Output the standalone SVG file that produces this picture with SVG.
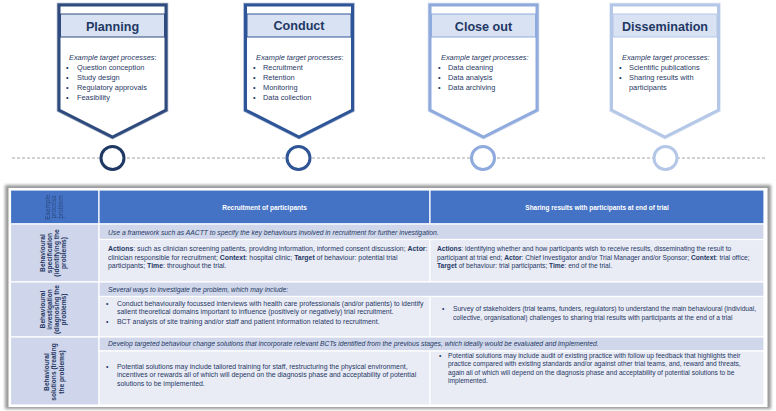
<svg xmlns="http://www.w3.org/2000/svg" width="776" height="411" viewBox="0 0 776 411">
<defs>
<filter id="soft" x="-10%" y="-10%" width="120%" height="120%"><feGaussianBlur stdDeviation="0.7"/></filter>
<filter id="frame" x="-5%" y="-5%" width="110%" height="110%"><feGaussianBlur stdDeviation="1.6"/></filter>
</defs>
<style>
text{font-family:"Liberation Sans",Arial,sans-serif;fill:#1F3864}
.title{font-size:12.6px;font-weight:bold;text-anchor:middle}
.ex{font-size:7.4px;font-style:italic}
.li{font-size:7.4px}
.shape{fill:#fff;stroke-width:3}
.glow{fill:none;stroke-width:4.5;opacity:.45}
.hdr{fill:#D9E2F3;stroke-width:1}
.dot{fill:#fff;stroke-width:3}
.p1{stroke:#2F4A7C}.p2{stroke:#2E5597}.p3{stroke:#8FAADC}.p4{stroke:#B4C7E7}
.th{font-size:6.5px;font-weight:bold;fill:#fff;text-anchor:middle}
.rl{font-size:6.6px;font-weight:bold;text-anchor:middle}
.rh{font-size:6.5px;text-anchor:middle;fill:#1F3864;opacity:.7}
.it{font-size:6.75px;font-style:italic}
.bd2{font-size:6.9px}
.bd3{font-size:6.65px}
.b{font-weight:bold}
.blue{fill:#4472C4}.side{fill:#CFD5EA}.band{fill:#D0D7EA}.cell{fill:#E9EBF5}
.grid rect{stroke:#fff;stroke-width:1.2}
</style>

<g id="connectors">
<line x1="12" y1="158" x2="765" y2="158" stroke="#A6A6A6" stroke-width="1" stroke-dasharray="3 2"/>
</g>

<g id="planning">
<path class="glow p1" filter="url(#soft)" d="M59,5H166V110L112.5,137L59,110Z"/>
<path class="shape p1" d="M59,5H166V110L112.5,137L59,110Z"/>
<rect class="hdr p1" x="60.5" y="14" width="104" height="23"/>
<text class="title" x="112.5" y="31">Planning</text>
<text class="ex" x="69" y="60">Example target processes<tspan font-style="normal">:</tspan></text>
<text class="li" x="66" y="70">•</text><text class="li" x="77" y="70">Question conception</text>
<text class="li" x="66" y="80">•</text><text class="li" x="77" y="80">Study design</text>
<text class="li" x="66" y="90">•</text><text class="li" x="77" y="90">Regulatory approvals</text>
<text class="li" x="66" y="100">•</text><text class="li" x="77" y="100">Feasibility</text>
</g>
<g id="planning-dot"><circle class="dot" cx="112.5" cy="158" r="11.5" stroke="#203864"/></g>

<g id="conduct">
<path class="glow p2" filter="url(#soft)" d="M245.5,5H352.5V110L299,137L245.5,110Z"/>
<path class="shape p2" d="M245.5,5H352.5V110L299,137L245.5,110Z"/>
<rect class="hdr p2" x="247" y="14" width="104" height="23"/>
<text class="title" x="299" y="30">Conduct</text>
<text class="ex" x="256" y="60">Example target processes<tspan font-style="normal">:</tspan></text>
<text class="li" x="253" y="70">•</text><text class="li" x="263" y="70">Recruitment</text>
<text class="li" x="253" y="80">•</text><text class="li" x="263" y="80">Retention</text>
<text class="li" x="253" y="90">•</text><text class="li" x="263" y="90">Monitoring</text>
<text class="li" x="253" y="100">•</text><text class="li" x="263" y="100">Data collection</text>
</g>
<g id="conduct-dot"><circle class="dot" cx="298.5" cy="158" r="11.5" stroke="#2F5597"/></g>

<g id="closeout">
<path class="glow p3" filter="url(#soft)" d="M430,5H537V110L483.5,137L430,110Z"/>
<path class="shape p3" d="M430,5H537V110L483.5,137L430,110Z"/>
<rect class="hdr p3" x="431.5" y="14" width="104" height="23"/>
<text class="title" x="483.5" y="31">Close out</text>
<text class="ex" x="441" y="60">Example target processes:</text>
<text class="li" x="438" y="70">•</text><text class="li" x="448" y="70">Data cleaning</text>
<text class="li" x="438" y="80">•</text><text class="li" x="448" y="80">Data analysis</text>
<text class="li" x="438" y="90">•</text><text class="li" x="448" y="90">Data archiving</text>
</g>
<g id="closeout-dot"><circle class="dot" cx="483" cy="158" r="11.5" stroke="#8FAADC"/></g>

<g id="dissemination">
<path class="glow p4" filter="url(#soft)" d="M611.5,5H718.5V110L665,137L611.5,110Z"/>
<path class="shape p4" d="M611.5,5H718.5V110L665,137L611.5,110Z"/>
<rect class="hdr p4" x="613" y="14" width="104" height="23"/>
<text class="title" x="665" y="31">Dissemination</text>
<text class="ex" x="622" y="60">Example target processes:</text>
<text class="li" x="619" y="70">•</text><text class="li" x="629" y="70">Scientific publications</text>
<text class="li" x="619" y="80">•</text><text class="li" x="629" y="80">Sharing results with</text>
<text class="li" x="629" y="90">participants</text>
</g>
<g id="dissemination-dot"><circle class="dot" cx="665.5" cy="158" r="11.5" stroke="#B4C7E7"/></g>

<g id="table">
<rect x="5" y="185" width="766" height="224" fill="#9A9A9A" filter="url(#frame)"/>
<rect x="8.5" y="188" width="759" height="219" fill="#fff"/>
<g class="grid">
<rect class="blue" x="10.5" y="190" width="88.5" height="34"/>
<rect class="blue" x="99" y="190" width="331" height="34"/>
<rect class="blue" x="430" y="190" width="334" height="34"/>
<rect class="side" x="10.5" y="224" width="88.5" height="58"/>
<rect class="band" x="99" y="224" width="665" height="15.5"/>
<rect class="cell" x="99" y="239.5" width="331" height="42.5"/>
<rect class="cell" x="430" y="239.5" width="334" height="42.5"/>
<rect class="side" x="10.5" y="282" width="88.5" height="55"/>
<rect class="band" x="99" y="282" width="665" height="14.5"/>
<rect class="cell" x="99" y="296.5" width="331" height="40.5"/>
<rect class="cell" x="430" y="296.5" width="334" height="40.5"/>
<rect class="side" x="10.5" y="337" width="88.5" height="68"/>
<rect class="band" x="99" y="337" width="665" height="14"/>
<rect class="cell" x="99" y="351" width="331" height="54"/>
<rect class="cell" x="430" y="351" width="334" height="54"/>
</g>
</g>

<g id="header-row">
<text class="rh" transform="translate(49.5,207) rotate(-90)">Example</text>
<text class="rh" transform="translate(56,207) rotate(-90)">process</text>
<text class="rh" transform="translate(62.5,207) rotate(-90)">problem</text>
<text class="th" x="264.5" y="209.5">Recruitment of participants</text>
<text class="th" x="597" y="209.5">Sharing results with participants at end of trial</text>
</g>

<g id="row-specification">
<text class="rl" transform="translate(44.5,253) rotate(-90)">Behavioural</text>
<text class="rl" transform="translate(51.8,253) rotate(-90)">specification</text>
<text class="rl" transform="translate(59.1,253) rotate(-90)">(identifying the</text>
<text class="rl" transform="translate(66.4,253) rotate(-90)">problems)</text>
<text class="it" x="108" y="234.5">Use a framework such as AACTT to specify the key behaviours involved in recruitment for further investigation.</text>
<text class="bd2" x="108" y="251"><tspan class="b">Actions</tspan>: such as clinician screening patients, providing information, informed consent discussion; <tspan class="b">Actor</tspan>:</text>
<text class="bd2" x="108" y="259.5">clinician responsible for recruitment; <tspan class="b">Context</tspan>: hospital clinic; <tspan class="b">Target</tspan> of behaviour: potential trial</text>
<text class="bd2" x="108" y="268">participants; <tspan class="b">Time</tspan>: throughout the trial.</text>
<text class="bd3" x="437" y="251"><tspan class="b">Actions</tspan>: identifying whether and how participants wish to receive results, disseminating the result to</text>
<text class="bd3" x="437" y="259.5">participant at trial end; <tspan class="b">Actor</tspan>: Chief Investigator and/or Trial Manager and/or Sponsor; <tspan class="b">Context</tspan>: trial office;</text>
<text class="bd3" x="437" y="268"><tspan class="b">Target</tspan> of behaviour: trial participants; <tspan class="b">Time</tspan>: end of the trial.</text>
</g>

<g id="row-investigation">
<text class="rl" transform="translate(44.5,309.5) rotate(-90)">Behavioural</text>
<text class="rl" transform="translate(51.8,309.5) rotate(-90)">investigation</text>
<text class="rl" transform="translate(59.1,309.5) rotate(-90)">(diagnosing the</text>
<text class="rl" transform="translate(66.4,309.5) rotate(-90)">problems)</text>
<text class="it" x="108" y="291.5">Several ways to investigate the problem, which may include:</text>
<text class="bd2" x="106" y="305.5">•</text>
<text class="bd2" x="117" y="305.5">Conduct behaviourally focussed interviews with health care professionals (and/or patients) to identify</text>
<text class="bd2" x="117" y="314">salient theoretical domains important to influence (positively or negatively) trial recruitment.</text>
<text class="bd2" x="106" y="323.5">•</text>
<text class="bd2" x="117" y="323.5">BCT analysis of site training and/or staff and patient information related to recruitment.</text>
<text class="bd3" x="442" y="311">•</text>
<text class="bd3" x="453" y="311">Survey of stakeholders (trial teams, funders, regulators) to understand the main behavioural (individual,</text>
<text class="bd3" x="453" y="319.5">collective, organisational) challenges to sharing trial results with participants at the end of a trial</text>
</g>

<g id="row-solutions">
<text class="rl" transform="translate(49,372) rotate(-90)">Behavioural</text>
<text class="rl" transform="translate(56.3,372) rotate(-90)">solutions (treating</text>
<text class="rl" transform="translate(63.6,372) rotate(-90)">the problems)</text>
<text class="it" x="108" y="346">Develop targeted behaviour change solutions that incorporate relevant BCTs identified from the previous stages, which ideally would be evaluated and implemented.</text>
<text class="bd2" x="106" y="368.5">•</text>
<text class="bd2" x="117" y="368.5">Potential solutions may include tailored training for staff, restructuring the physical environment,</text>
<text class="bd2" x="117" y="377">incentives or rewards all of which will depend on the diagnosis phase and acceptability of potential</text>
<text class="bd2" x="117" y="385.5">solutions to be implemented.</text>
<text class="bd3" x="439" y="357.5">•</text>
<text class="bd3" x="448" y="357.5">Potential solutions may include audit of existing practice with follow up feedback that highlights their</text>
<text class="bd3" x="448" y="366">practice compared with existing standards and/or against other trial teams, and, reward and threats,</text>
<text class="bd3" x="448" y="374.5">again all of which will depend on the diagnosis phase and acceptability of potential solutions to be</text>
<text class="bd3" x="448" y="383">implemented.</text>
</g>
</svg>
